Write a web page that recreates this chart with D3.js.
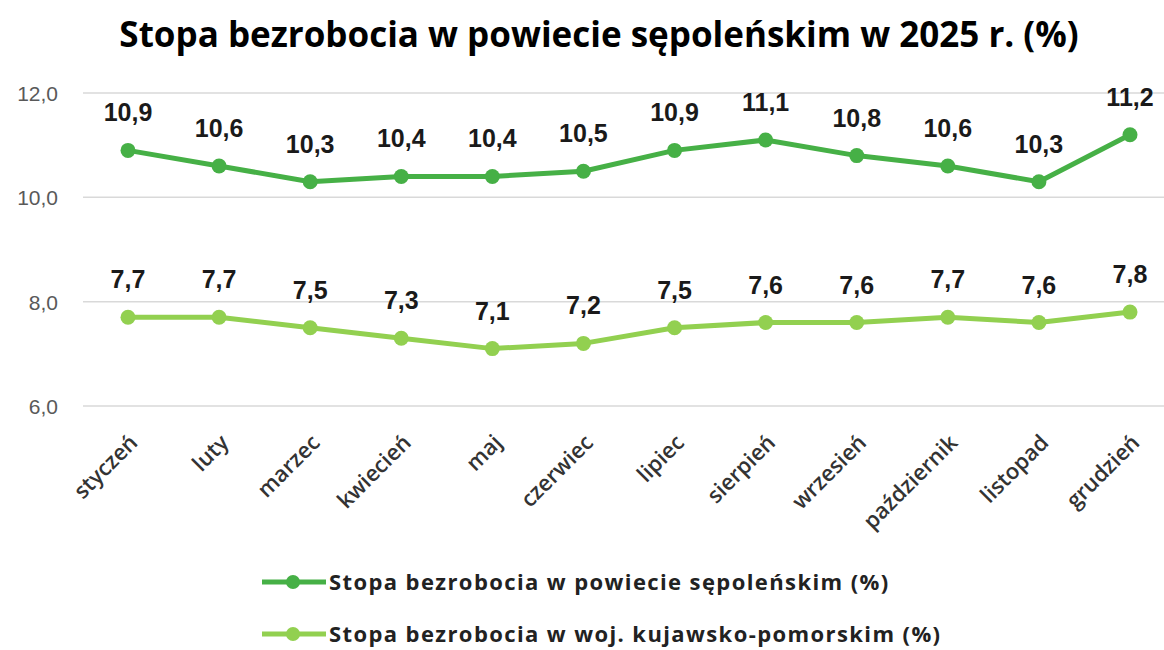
<!DOCTYPE html>
<html>
<head>
<meta charset="utf-8">
<script src="https://cdn.jsdelivr.net/npm/d3@7"></script>
<style>
  body { margin: 0; background: #fff; }
</style>
</head>
<body>
<div id="chart"></div>
<script>
var months = ["styczeń", "luty", "marzec", "kwiecień", "maj", "czerwiec", "lipiec",
  "sierpień", "wrzesień", "październik", "listopad", "grudzień"];
var powiat = [10.9, 10.6, 10.3, 10.4, 10.4, 10.5, 10.9, 11.1, 10.8, 10.6, 10.3, 11.2];
var woj = [7.7, 7.7, 7.5, 7.3, 7.1, 7.2, 7.5, 7.6, 7.6, 7.7, 7.6, 7.8];
var yTicks = [6, 8, 10, 12];
var seriesNames = ["Stopa bezrobocia w powiecie sępoleńskim (%)",
  "Stopa bezrobocia w woj. kujawsko-pomorskim (%)"];

var width = 1164, height = 650;
var dark = "#46b046", light = "#92d050";

var svg = d3.select("#chart").append("svg")
  .attr("width", width)
  .attr("height", height)
  .style("font-family", "'Open Sans', sans-serif");

svg.append("text")
  .attr("x", 599)
  .attr("y", 47)
  .attr("text-anchor", "middle")
  .style("font-size", "35px")
  .style("font-weight", "bold")
  .attr("fill", "#000")
  .text("Stopa bezrobocia w powiecie sępoleńskim w 2025 r. (%)");

var x = d3.scalePoint()
  .domain(months)
  .range([128, 1130]);

var y = d3.scaleLinear()
  .domain([6, 12])
  .range([406, 93]);

// gridlines
svg.selectAll(".grid")
  .data(yTicks)
  .enter()
  .append("line")
    .attr("x1", 83)
    .attr("x2", width)
    .attr("y1", function (d) { return y(d); })
    .attr("y2", function (d) { return y(d); })
    .attr("stroke", "#d9d9d9")
    .attr("stroke-width", 1.5);

// y labels
svg.selectAll(".ylab")
  .data(yTicks)
  .enter()
  .append("text")
    .attr("x", 58)
    .attr("y", function (d) { return y(d) + 8; })
    .attr("text-anchor", "end")
    .style("font-family", "'Liberation Sans', Arial, sans-serif")
    .style("font-size", "21px")
    .attr("fill", "#595959")
    .text(function (d) { return d3.format(".1f")(d).replace(".", ","); });

// x labels, rotated
svg.selectAll(".xlab")
  .data(months)
  .enter()
  .append("text")
    .attr("transform", function (d) {
      return "translate(" + (x(d) + 11) + "," + 444 + ") rotate(-45)";
    })
    .attr("text-anchor", "end")
    .style("font-size", "22px")
    .style("font-weight", "600")
    .attr("fill", "#333")
    .text(function (d) { return d; });

function drawSeries(values, color) {
  var line = d3.line()
    .x(function (d, i) { return x(months[i]); })
    .y(function (d) { return y(d); });

  svg.append("path")
    .datum(values)
    .attr("d", line)
    .attr("fill", "none")
    .attr("stroke", color)
    .attr("stroke-width", 5)
    .attr("stroke-linejoin", "round");

  svg.selectAll(null)
    .data(values)
    .enter()
    .append("circle")
      .attr("cx", function (d, i) { return x(months[i]); })
      .attr("cy", function (d) { return y(d); })
      .attr("r", 7.5)
      .attr("fill", color);

  svg.selectAll(null)
    .data(values)
    .enter()
    .append("text")
      .attr("x", function (d, i) { return x(months[i]); })
      .attr("y", function (d) { return y(d) - 29; })
      .attr("text-anchor", "middle")
      .style("font-family", "'Liberation Sans', Arial, sans-serif")
      .style("font-size", "25px")
      .style("font-weight", "bold")
      .attr("fill", "#1a1a1a")
      .text(function (d) { return d3.format(".1f")(d).replace(".", ","); });
}

drawSeries(powiat, dark);
drawSeries(woj, light);

// legend
var legend = svg.selectAll(".legend")
  .data([dark, light])
  .enter()
  .append("g")
    .attr("transform", function (d, i) { return "translate(262," + (582 + i * 52) + ")"; });

legend.append("line")
  .attr("x1", 0).attr("x2", 64)
  .attr("stroke", function (d) { return d; })
  .attr("stroke-width", 5);

legend.append("circle")
  .attr("cx", 31)
  .attr("r", 7)
  .attr("fill", function (d) { return d; });

legend.append("text")
  .attr("x", 67)
  .attr("y", 8)
  .style("font-size", "22px")
  .style("font-weight", "bold")
  .style("letter-spacing", "1.4px")
  .attr("fill", "#222")
  .text(function (d, i) { return seriesNames[i]; });
</script>
</body>
</html>
